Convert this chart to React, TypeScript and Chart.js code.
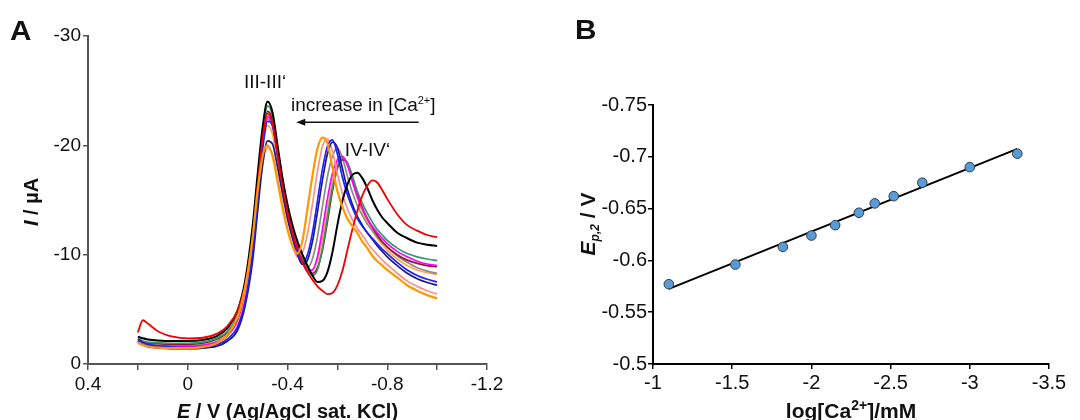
import React, { useEffect, useRef } from "react";
import { Chart, registerables } from "chart.js";

Chart.register(...registerables);

const FONT = "'Liberation Sans', Arial, Helvetica, sans-serif";

// ---------- Panel A: square-wave voltammograms ----------
const potentials = [0.2, 0.18, 0.16, 0.12, 0.06, 0, -0.06, -0.12, -0.16, -0.2, -0.23, -0.26, -0.28, -0.3, -0.32, -0.34, -0.36, -0.38, -0.4, -0.42, -0.44, -0.46, -0.48, -0.5, -0.52, -0.54, -0.56, -0.58, -0.6, -0.62, -0.64, -0.66, -0.68, -0.7, -0.72, -0.74, -0.76, -0.78, -0.8, -0.84, -0.88, -0.92, -0.96, -1.0];

const currentOrangeB = [-2.0, -1.75, -1.6, -1.5, -1.45, -1.45, -1.55, -1.95, -2.7, -4.3, -7.0, -11.5, -15.8, -19.0, -20.0, -19.0, -16.7, -14.3, -12.3, -10.8, -10.1, -11.3, -14.2, -17.2, -19.7, -20.7, -20.2, -18.0, -15.8, -14.4, -13.3, -12.6, -12.0, -11.2, -10.6, -9.9, -9.4, -9.0, -8.6, -7.9, -7.2, -6.7, -6.3, -6.0];
const currentRed = [-2.9, -4.0, -3.7, -3.0, -2.5, -2.35, -2.4, -2.8, -3.5, -4.9, -7.2, -11.6, -16.3, -20.6, -22.9, -22.0, -19.2, -16.3, -13.9, -12.0, -10.5, -9.3, -8.4, -7.7, -7.1, -6.7, -6.4, -6.5, -7.2, -8.5, -10.4, -12.3, -14.0, -15.4, -16.3, -16.8, -16.6, -15.9, -15.1, -13.7, -12.7, -12.2, -11.8, -11.6];
const currentBlack = [-2.5, -2.35, -2.25, -2.15, -2.1, -2.1, -2.2, -2.6, -3.3, -4.9, -7.6, -12.6, -17.3, -21.6, -24.0, -23.0, -20.0, -17.0, -14.6, -12.7, -11.2, -10.0, -9.0, -8.1, -7.5, -7.6, -8.4, -10.2, -12.7, -14.9, -16.4, -17.3, -17.5, -17.0, -16.1, -15.0, -14.1, -13.4, -12.9, -12.0, -11.5, -11.1, -10.9, -10.8];
const currentBlue = [-2.3, -2.0, -1.8, -1.65, -1.55, -1.5, -1.55, -1.8, -2.3, -3.4, -5.7, -10.1, -14.9, -19.6, -22.2, -21.8, -19.2, -16.4, -13.9, -11.9, -10.2, -9.3, -10.0, -12.0, -14.9, -17.8, -19.9, -20.5, -19.2, -17.1, -15.5, -14.3, -13.3, -12.6, -12.0, -11.5, -11.0, -10.5, -10.1, -9.3, -8.6, -8.1, -7.75, -7.5];
const currentDarkBlue = [-2.1, -1.8, -1.6, -1.5, -1.4, -1.4, -1.45, -1.65, -2.1, -3.1, -5.3, -9.4, -13.9, -18.2, -20.4, -20.1, -18.0, -15.6, -13.3, -11.5, -10.0, -9.1, -9.5, -11.2, -13.9, -16.8, -19.2, -20.3, -19.8, -17.9, -16.0, -14.6, -13.5, -12.7, -12.0, -11.4, -10.8, -10.3, -9.8, -9.0, -8.3, -7.8, -7.45, -7.2];
const currentPink = [-1.9, -1.7, -1.55, -1.45, -1.4, -1.4, -1.45, -1.7, -2.2, -3.5, -6.0, -10.3, -14.6, -18.2, -19.8, -19.2, -17.0, -14.6, -12.4, -10.8, -9.8, -10.2, -11.9, -14.6, -17.6, -19.9, -20.6, -19.5, -17.4, -15.6, -14.2, -13.2, -12.4, -11.8, -11.1, -10.5, -10.0, -9.5, -9.1, -8.3, -7.6, -7.1, -6.7, -6.4];
const currentMagenta = [-2.0, -1.8, -1.7, -1.65, -1.6, -1.6, -1.7, -2.0, -2.6, -4.0, -6.6, -11.2, -15.9, -20.2, -22.6, -21.9, -19.2, -16.4, -14.1, -12.2, -10.6, -9.4, -8.5, -8.6, -9.8, -12.3, -15.1, -17.4, -18.7, -19.0, -18.2, -16.7, -15.3, -14.2, -13.3, -12.6, -12.0, -11.5, -11.0, -10.3, -9.8, -9.4, -9.15, -9.0];
const currentGreen = [-2.3, -2.1, -2.0, -1.95, -1.9, -1.9, -2.0, -2.4, -3.0, -4.5, -7.1, -11.9, -16.7, -21.0, -23.6, -22.7, -19.8, -16.8, -14.4, -12.5, -11.0, -9.6, -8.6, -8.1, -8.6, -10.6, -13.4, -16.1, -18.1, -18.8, -18.4, -17.2, -15.8, -14.7, -13.8, -13.0, -12.3, -11.8, -11.3, -10.6, -10.1, -9.8, -9.6, -9.45];
const currentMaroon = [-2.2, -2.0, -1.9, -1.85, -1.8, -1.8, -1.9, -2.3, -2.9, -4.3, -6.9, -11.5, -16.3, -20.6, -23.1, -22.3, -19.5, -16.6, -14.2, -12.4, -10.9, -9.6, -8.7, -8.3, -8.8, -10.4, -13.0, -15.8, -17.9, -18.7, -18.4, -17.1, -15.6, -14.3, -13.3, -12.5, -11.8, -11.2, -10.7, -10.0, -9.5, -9.2, -9.0, -8.9];
const currentGray = [-2.1, -1.9, -1.8, -1.7, -1.65, -1.65, -1.75, -2.1, -2.7, -4.1, -6.7, -11.2, -15.9, -20.1, -22.4, -21.7, -19.0, -16.2, -13.9, -12.0, -10.5, -9.3, -8.8, -9.6, -11.6, -14.4, -17.1, -19.0, -19.7, -18.9, -17.2, -15.7, -14.5, -13.6, -12.8, -12.2, -11.6, -11.1, -10.7, -9.9, -9.3, -8.8, -8.5, -8.3];
const currentOrangeA = [-2.0, -1.75, -1.65, -1.55, -1.5, -1.5, -1.6, -2.0, -2.7, -4.3, -7.0, -11.6, -16.1, -19.9, -21.8, -21.0, -18.4, -15.7, -13.4, -11.6, -10.3, -9.3, -8.7, -8.6, -9.5, -11.5, -14.1, -16.6, -18.3, -18.9, -18.3, -16.8, -15.2, -14.0, -13.0, -12.2, -11.5, -10.9, -10.4, -9.6, -9.0, -8.6, -8.35, -8.2];

const xTicksA = [0.4, 0, -0.4, -0.8, -1.2];

// ---------- Panel B: peak potential vs log[Ca2+] ----------
const logCa = [-1.1, -1.52, -1.82, -2.0, -2.15, -2.3, -2.4, -2.52, -2.7, -3.0, -3.3];
const peakPotential = [-0.577, -0.596, -0.613, -0.624, -0.634, -0.646, -0.655, -0.662, -0.675, -0.69, -0.703];
const fitLogCa = [-1.1, -3.3];
const fitPotential = [-0.5725, -0.7077];

type Seg = { t: string; font: string; dy?: number };

function drawRich(ctx: CanvasRenderingContext2D, segs: Seg[], x0: number, baseline: number, align: "center" | "left") {
  let total = 0;
  for (const s of segs) {
    ctx.font = s.font;
    total += ctx.measureText(s.t).width;
  }
  let x = align === "center" ? x0 - total / 2 : x0;
  ctx.textAlign = "left";
  ctx.textBaseline = "alphabetic";
  for (const s of segs) {
    ctx.font = s.font;
    ctx.fillText(s.t, x, baseline + (s.dy || 0));
    x += ctx.measureText(s.t).width;
  }
}

function drawLetter(ctx: CanvasRenderingContext2D, t: string, x: number, baseline: number) {
  ctx.save();
  ctx.translate(x, baseline);
  ctx.scale(1.1, 1);
  ctx.font = `bold 27px ${FONT}`;
  ctx.textAlign = "left";
  ctx.textBaseline = "alphabetic";
  ctx.fillText(t, 0, 0);
  ctx.restore();
}

const textA = {
  id: "textA",
  afterDraw(chart: any) {
    const { ctx, scales, chartArea } = chart;
    const xs = scales.x;
    const ys = scales.y;
    ctx.save();
    ctx.fillStyle = "#111";
    ctx.strokeStyle = "#111";
    drawLetter(ctx, "A", 10, 40);
    // x title
    drawRich(
      ctx,
      [
        { t: "E", font: `italic bold 20px ${FONT}` },
        { t: " / V (Ag/AgCl sat. KCl)", font: `bold 20px ${FONT}` },
      ],
      (chartArea.left + chartArea.right) / 2,
      418,
      "center"
    );
    // y title
    ctx.save();
    ctx.translate(38, 202);
    ctx.rotate(-Math.PI / 2);
    drawRich(
      ctx,
      [
        { t: "I", font: `italic bold 20px ${FONT}` },
        { t: " / µA", font: `bold 20px ${FONT}` },
      ],
      0,
      0,
      "center"
    );
    ctx.restore();
    // annotations
    drawRich(ctx, [{ t: "III-III‘", font: `19px ${FONT}` }], xs.getPixelForValue(-0.31), ys.getPixelForValue(-25.2), "center");
    drawRich(
      ctx,
      [
        { t: "increase in [Ca", font: `19px ${FONT}` },
        { t: "2+", font: `11px ${FONT}`, dy: -7.5 },
        { t: "]", font: `19px ${FONT}` },
      ],
      xs.getPixelForValue(-0.414),
      ys.getPixelForValue(-23.1),
      "left"
    );
    drawRich(ctx, [{ t: "IV-IV‘", font: `19px ${FONT}` }], xs.getPixelForValue(-0.721), ys.getPixelForValue(-19.0), "center");
    // arrow
    const ay = ys.getPixelForValue(-22.1);
    const ax1 = xs.getPixelForValue(-0.926);
    const ax0 = xs.getPixelForValue(-0.435);
    ctx.lineWidth = 1.5;
    ctx.beginPath();
    ctx.moveTo(ax1, ay);
    ctx.lineTo(ax0 + 6, ay);
    ctx.stroke();
    ctx.beginPath();
    ctx.moveTo(ax0, ay);
    ctx.lineTo(ax0 + 9, ay - 3.5);
    ctx.lineTo(ax0 + 9, ay + 3.5);
    ctx.closePath();
    ctx.fill();
    ctx.restore();
  },
};

const textB = {
  id: "textB",
  afterDraw(chart: any) {
    const { ctx, chartArea } = chart;
    ctx.save();
    ctx.fillStyle = "#111";
    drawLetter(ctx, "B", 35, 39);
    drawRich(
      ctx,
      [
        { t: "log[Ca", font: `bold 21px ${FONT}` },
        { t: "2+", font: `bold 14px ${FONT}`, dy: -8 },
        { t: "]/mM", font: `bold 21px ${FONT}` },
      ],
      (chartArea.left + chartArea.right) / 2,
      418,
      "center"
    );
    ctx.save();
    ctx.translate(55, 224);
    ctx.rotate(-Math.PI / 2);
    drawRich(
      ctx,
      [
        { t: "E", font: `italic bold 21px ${FONT}` },
        { t: "p,2", font: `italic bold 12px ${FONT}`, dy: 4 },
        { t: " / V", font: `bold 21px ${FONT}` },
      ],
      0,
      0,
      "center"
    );
    ctx.restore();
    ctx.restore();
  },
};

function series(values: number[]) {
  return potentials.map((x, i) => ({ x, y: values[i] }));
}

function buildA(): any {
  const lines = [
    { data: currentOrangeB, color: "#ff9900", w: 2.2 },
    { data: currentRed, color: "#f20000", w: 1.8 },
    { data: currentBlack, color: "#000000", w: 2 },
    { data: currentBlue, color: "#1f1fff", w: 1.7 },
    { data: currentDarkBlue, color: "#1a1a8c", w: 1.7 },
    { data: currentPink, color: "#ff8f8f", w: 1.7 },
    { data: currentMagenta, color: "#ff00ff", w: 1.7 },
    { data: currentGreen, color: "#339966", w: 1.7 },
    { data: currentMaroon, color: "#8b1c2c", w: 1.7 },
    { data: currentGray, color: "#8c8c8c", w: 1.7 },
    { data: currentOrangeA, color: "#ffa64d", w: 1.7 },
  ];
  const tickFont = { family: FONT, size: 19 };
  return {
    type: "line",
    data: {
      datasets: lines.map((l) => ({
        data: series(l.data),
        borderColor: l.color,
        borderWidth: l.w,
        pointRadius: 0,
        fill: false,
        cubicInterpolationMode: "monotone",
      })),
    },
    options: {
      animation: false,
      responsive: false,
      events: [],
      layout: { padding: { left: 0, right: 53, top: 36, bottom: 0 } },
      plugins: { legend: { display: false }, tooltip: { enabled: false } },
      scales: {
        x: {
          type: "linear",
          min: -1.2,
          max: 0.4,
          reverse: true,
          afterFit: (s: any) => {
            s.height = 56;
          },
          ticks: {
            stepSize: 0.2,
            autoSkip: false,
            maxRotation: 0,
            padding: 3,
            color: "#111",
            font: tickFont,
            callback: (v: number) => {
              const r = Math.round(v * 10) / 10;
              const hit = xTicksA.find((t) => Math.abs(t - r) < 1e-6);
              return hit === undefined ? "" : String(hit);
            },
          },
          grid: { drawOnChartArea: false, drawTicks: true, tickLength: 6, color: "#555", lineWidth: 1.5 },
          border: { display: true, color: "#555", width: 2 },
        },
        y: {
          type: "linear",
          min: -30,
          max: 0,
          reverse: true,
          afterFit: (s: any) => {
            s.width = 88;
          },
          ticks: {
            stepSize: 10,
            padding: 2,
            color: "#111",
            font: tickFont,
            callback: (v: number) => String(Math.round(v)),
          },
          grid: { drawOnChartArea: false, drawTicks: true, tickLength: 5, color: "#555", lineWidth: 1.5 },
          border: { display: true, color: "#555", width: 2 },
        },
      },
    },
    plugins: [textA],
  };
}

function buildB(): any {
  const tickFont = { family: FONT, size: 20 };
  return {
    type: "scatter",
    data: {
      datasets: [
        {
          data: logCa.map((x, i) => ({ x, y: peakPotential[i] })),
          backgroundColor: "#5b9bd5",
          borderColor: "#2c3e50",
          borderWidth: 1,
          pointRadius: 4.8,
          showLine: false,
          order: 0,
        },
        {
          data: fitLogCa.map((x, i) => ({ x, y: fitPotential[i] })),
          borderColor: "#000",
          borderWidth: 2,
          pointRadius: 0,
          showLine: true,
          order: 1,
        },
      ],
    },
    options: {
      animation: false,
      responsive: false,
      events: [],
      layout: { padding: { left: 0, right: 31, top: 105, bottom: 0 } },
      plugins: { legend: { display: false }, tooltip: { enabled: false } },
      scales: {
        x: {
          type: "linear",
          min: -3.5,
          max: -1,
          reverse: true,
          afterFit: (s: any) => {
            s.height = 56;
          },
          ticks: {
            stepSize: 0.5,
            autoSkip: false,
            maxRotation: 0,
            padding: 2,
            color: "#111",
            font: tickFont,
            callback: (v: number) => String(Math.round(v * 10) / 10),
          },
          grid: { drawOnChartArea: false, drawTicks: true, tickLength: 5, color: "#000", lineWidth: 1.5 },
          border: { display: true, color: "#000", width: 2 },
        },
        y: {
          type: "linear",
          min: -0.75,
          max: -0.5,
          reverse: true,
          afterFit: (s: any) => {
            s.width = 113;
          },
          ticks: {
            stepSize: 0.05,
            padding: 1,
            color: "#111",
            font: tickFont,
            callback: (v: number) => String(Math.round(v * 100) / 100),
          },
          grid: { drawOnChartArea: false, drawTicks: true, tickLength: 5, color: "#000", lineWidth: 1.5 },
          border: { display: true, color: "#000", width: 2 },
        },
      },
    },
    plugins: [textB],
  };
}

export default function App() {
  const refA = useRef<HTMLCanvasElement>(null);
  const refB = useRef<HTMLCanvasElement>(null);
  useEffect(() => {
    const a = new Chart(refA.current as HTMLCanvasElement, buildA());
    const b = new Chart(refB.current as HTMLCanvasElement, buildB());
    return () => {
      a.destroy();
      b.destroy();
    };
  }, []);
  return (
    <div style={{ position: "fixed", left: 0, top: 0, width: 1080, height: 420, background: "#fff" }}>
      <canvas ref={refA} width={540} height={420} style={{ position: "absolute", left: 0, top: 0, width: 540, height: 420 }} />
      <canvas ref={refB} width={540} height={420} style={{ position: "absolute", left: 540, top: 0, width: 540, height: 420 }} />
    </div>
  );
}
